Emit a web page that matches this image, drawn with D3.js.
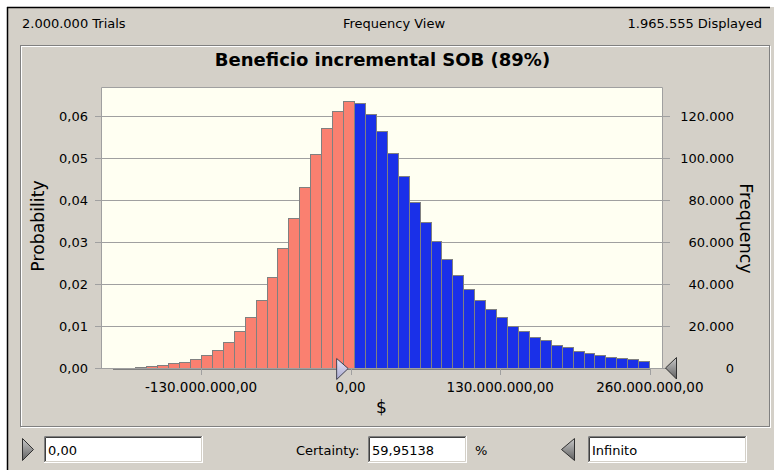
<!DOCTYPE html>
<html>
<head>
<meta charset="utf-8">
<script src="https://cdn.jsdelivr.net/npm/d3@7"></script>
<style>
    body { margin: 0; background: #fff; }
    svg text { font-family: "DejaVu Sans", sans-serif; fill: #000; }
</style>
</head>
<body>
<svg id="chart"></svg>
<script>
// bin lower edges, millions of $
const binEdges = [-206.1, -196.6, -187.1, -177.6, -168.1, -158.6, -149.1, -139.6, -130.1, -120.6,
    -111.1, -101.6, -92.1, -82.6, -73.1, -63.6, -54.1, -44.6, -35.1, -25.6,
    -16.1, -6.6, 2.9, 12.4, 21.9, 31.4, 40.9, 50.4, 59.9, 69.4,
    78.9, 88.4, 97.9, 107.4, 116.9, 126.4, 135.9, 145.4, 154.9, 164.4,
    173.9, 183.4, 192.9, 202.4, 211.9, 221.4, 230.9, 240.4, 249.9, 259.4];
const probability = [0.0002, 0.0002, 0.0003, 0.0006, 0.0009, 0.0012, 0.0016, 0.0022, 0.0032, 0.0045,
    0.0063, 0.0090, 0.0122, 0.0164, 0.0219, 0.0287, 0.0358, 0.0433, 0.0510, 0.0572,
    0.0614, 0.0636, 0.0633, 0.0607, 0.0565, 0.0514, 0.0458, 0.0397, 0.0348, 0.0303,
    0.0261, 0.0222, 0.0189, 0.0164, 0.0142, 0.0122, 0.0102, 0.0090, 0.0076, 0.0067,
    0.0056, 0.0051, 0.0042, 0.0037, 0.0032, 0.0028, 0.0025, 0.0022, 0.0018];
const trials = 2000000;
const displayed = 1965555;
const xTicks = [-130e6, 0, 130e6, 260e6];
const probTicks = [0, 0.01, 0.02, 0.03, 0.04, 0.05, 0.06];
const freqTicks = [0, 20000, 40000, 60000, 80000, 100000, 120000];
const certaintyLow = 0;        // lower grabber, $
const certaintyValue = "59,95138";
const upperText = "Infinito";
const title = "Beneficio incremental SOB (89%)";

const loc = d3.formatLocale({ decimal: ",", thousands: ".", grouping: [3], currency: ["", ""], minus: "-" });
const fmtProb = loc.format(",.2f");
const fmtFreq = loc.format(",.0f");
const fmtMoney = loc.format(",.2f");

const W = 774, H = 470;
const svg = d3.select("#chart").attr("width", W).attr("height", H);

const xScale = d3.scaleLinear().domain([-216.5e6, 271.0e6]).range([101.5, 662.5]);
const yScale = d3.scaleLinear().domain([0, 0.0669]).range([368.5, 87.5]);
const yFreq = d3.scaleLinear().domain([0, 0.0669 * trials]).range([368.5, 87.5]);

// window background
svg.append("rect").attr("x", 7).attr("y", 7).attr("width", W - 7).attr("height", H - 7).attr("fill", "#d4d0c8");
svg.append("line").attr("x1", 7).attr("x2", 770).attr("y1", 7.5).attr("y2", 7.5).attr("stroke", "#000").attr("stroke-width", 1.5);
svg.append("line").attr("x1", 7.5).attr("x2", 7.5).attr("y1", 7).attr("y2", H).attr("stroke", "#000").attr("stroke-width", 1.5);

// header
svg.append("text").attr("x", 22).attr("y", 28).style("font-size", "13px").text(fmtFreq(trials) + " Trials");
svg.append("text").attr("x", 394).attr("y", 28).attr("text-anchor", "middle").style("font-size", "13px").text("Frequency View");
svg.append("text").attr("x", 762).attr("y", 28).attr("text-anchor", "end").style("font-size", "13px").text(fmtFreq(displayed) + " Displayed");

// group panel (etched)
svg.append("rect").attr("x", 21.5).attr("y", 46.5).attr("width", 749).attr("height", 381).attr("fill", "none").attr("stroke", "#fff");
svg.append("rect").attr("x", 20.5).attr("y", 45.5).attr("width", 749).attr("height", 381).attr("fill", "none").attr("stroke", "#808080");

svg.append("text").attr("x", 382.5).attr("y", 66).attr("text-anchor", "middle")
    .style("font-size", "18px").style("font-weight", "bold").text(title);

// plot area
svg.append("rect").attr("x", 101.5).attr("y", 87.5).attr("width", 561).attr("height", 281)
    .attr("fill", "#fffff2");

// gridlines with tick stubs on both sides
svg.selectAll(".grid")
    .data(probTicks)
    .enter()
    .append("line")
    .attr("class", "grid")
    .attr("x1", 95).attr("x2", 670)
    .attr("y1", d => Math.round(yScale(d) - 0.5) + 0.5)
    .attr("y2", d => Math.round(yScale(d) - 0.5) + 0.5)
    .attr("stroke", "#a0a0a0");

// histogram bars
const bins = probability.map((p, i) => ({ x0: binEdges[i] * 1e6, x1: binEdges[i + 1] * 1e6, p: p }));

svg.selectAll(".bar")
    .data(bins)
    .enter()
    .append("rect")
    .attr("class", "bar")
    .attr("x", d => Math.round(xScale(d.x0)) + 0.5)
    .attr("y", d => Math.round(yScale(d.p)) + 0.5)
    .attr("width", d => Math.round(xScale(d.x1)) - Math.round(xScale(d.x0)))
    .attr("height", d => Math.round(yScale(0)) - Math.round(yScale(d.p)))
    .attr("fill", d => (d.x0 + d.x1) / 2 < certaintyLow ? "#fa8070" : "#1a30e8")
    .attr("stroke", "#808080");

// plot frame
svg.append("path")
    .attr("d", `M101.5,368.5 V87.5 H662.5 V368.5 H101.5`)
    .attr("fill", "none").attr("stroke", "#a0a0a0");

// x axis ticks and labels
svg.selectAll(".xtick")
    .data(xTicks)
    .enter()
    .append("line")
    .attr("x1", d => Math.round(xScale(d)) + 0.5).attr("x2", d => Math.round(xScale(d)) + 0.5)
    .attr("y1", 369).attr("y2", 375)
    .attr("stroke", "#a0a0a0");

svg.selectAll(".xlabel")
    .data(xTicks)
    .enter()
    .append("text")
    .attr("x", d => xScale(d))
    .attr("y", 392)
    .attr("text-anchor", "middle")
    .style("font-size", "13.5px")
    .text(d => fmtMoney(d));

svg.append("text").attr("x", 381.5).attr("y", 413).attr("text-anchor", "middle").style("font-size", "17px").text("$");

// left axis labels
svg.selectAll(".ylabel")
    .data(probTicks)
    .enter()
    .append("text")
    .attr("x", 88)
    .attr("y", d => yScale(d) + 4.5)
    .attr("text-anchor", "end")
    .style("font-size", "13px")
    .text(d => fmtProb(d));

// right axis labels
svg.selectAll(".flabel")
    .data(freqTicks)
    .enter()
    .append("text")
    .attr("x", 734)
    .attr("y", d => yFreq(d) + 4.5)
    .attr("text-anchor", "end")
    .style("font-size", "13px")
    .text(d => fmtFreq(d));

svg.append("text").attr("transform", "translate(43.5,226) rotate(-90)").attr("text-anchor", "middle")
    .style("font-size", "17.3px").text("Probability");
svg.append("text").attr("transform", "translate(739.5,228.5) rotate(90)").attr("text-anchor", "middle")
    .style("font-size", "17.5px").text("Frequency");

// gradients for grabbers
const defs = svg.append("defs");
const g1 = defs.append("linearGradient").attr("id", "lav").attr("x1", 0).attr("y1", 0).attr("x2", 0).attr("y2", 1);
g1.append("stop").attr("offset", 0).attr("stop-color", "#e8e8f8");
g1.append("stop").attr("offset", 1).attr("stop-color", "#a8a8d0");
const g2 = defs.append("linearGradient").attr("id", "gry").attr("x1", 0).attr("y1", 0).attr("x2", 0).attr("y2", 1);
g2.append("stop").attr("offset", 0).attr("stop-color", "#c8c8c8");
g2.append("stop").attr("offset", 1).attr("stop-color", "#606060");

// certainty grabbers on the axis
const xl = xScale(certaintyLow);
svg.append("path")
    .attr("d", `M${xl - 14},358.5 L${xl - 2.5},368.5 L${xl - 14},379.5 Z`)
    .attr("fill", "url(#lav)").attr("stroke", "#404050");
svg.append("path")
    .attr("d", `M665.5,368 L676.5,357.5 L676.5,379 Z`)
    .attr("fill", "url(#gry)").attr("stroke", "#303030");

// bottom controls
function textBox(x, y, w, h, txt) {
    svg.append("rect").attr("x", x).attr("y", y).attr("width", w).attr("height", h).attr("fill", "#fff");
    svg.append("path").attr("d", `M${x + 0.5},${y + h} V${y + 0.5} H${x + w}`).attr("fill", "none").attr("stroke", "#808080");
    svg.append("path").attr("d", `M${x + 1.5},${y + h - 1} V${y + 1.5} H${x + w - 1}`).attr("fill", "none").attr("stroke", "#404040");
    svg.append("path").attr("d", `M${x},${y + h - 0.5} H${x + w - 0.5} V${y}`).attr("fill", "none").attr("stroke", "#fff");
    svg.append("path").attr("d", `M${x + 1},${y + h - 1.5} H${x + w - 1.5} V${y + 1}`).attr("fill", "none").attr("stroke", "#d4d0c8");
    svg.append("text").attr("x", x + 4).attr("y", y + 19).style("font-size", "13px").text(txt);
}

svg.append("path").attr("d", "M22.5,438.5 L33.5,449.5 L22.5,460.5 Z").attr("fill", "url(#gry)").attr("stroke", "#303030");
textBox(44, 436, 159, 27, fmtMoney(certaintyLow));

svg.append("text").attr("x", 359.5).attr("y", 455).attr("text-anchor", "end").style("font-size", "13px").text("Certainty:");
textBox(368, 436, 99, 27, certaintyValue);
svg.append("text").attr("x", 475).attr("y", 455).style("font-size", "13px").text("%");

svg.append("path").attr("d", "M574.5,438.5 L561.5,449.5 L574.5,460.5 Z").attr("fill", "url(#gry)").attr("stroke", "#303030");
textBox(588, 436, 159, 27, upperText);
</script>
</body>
</html>
